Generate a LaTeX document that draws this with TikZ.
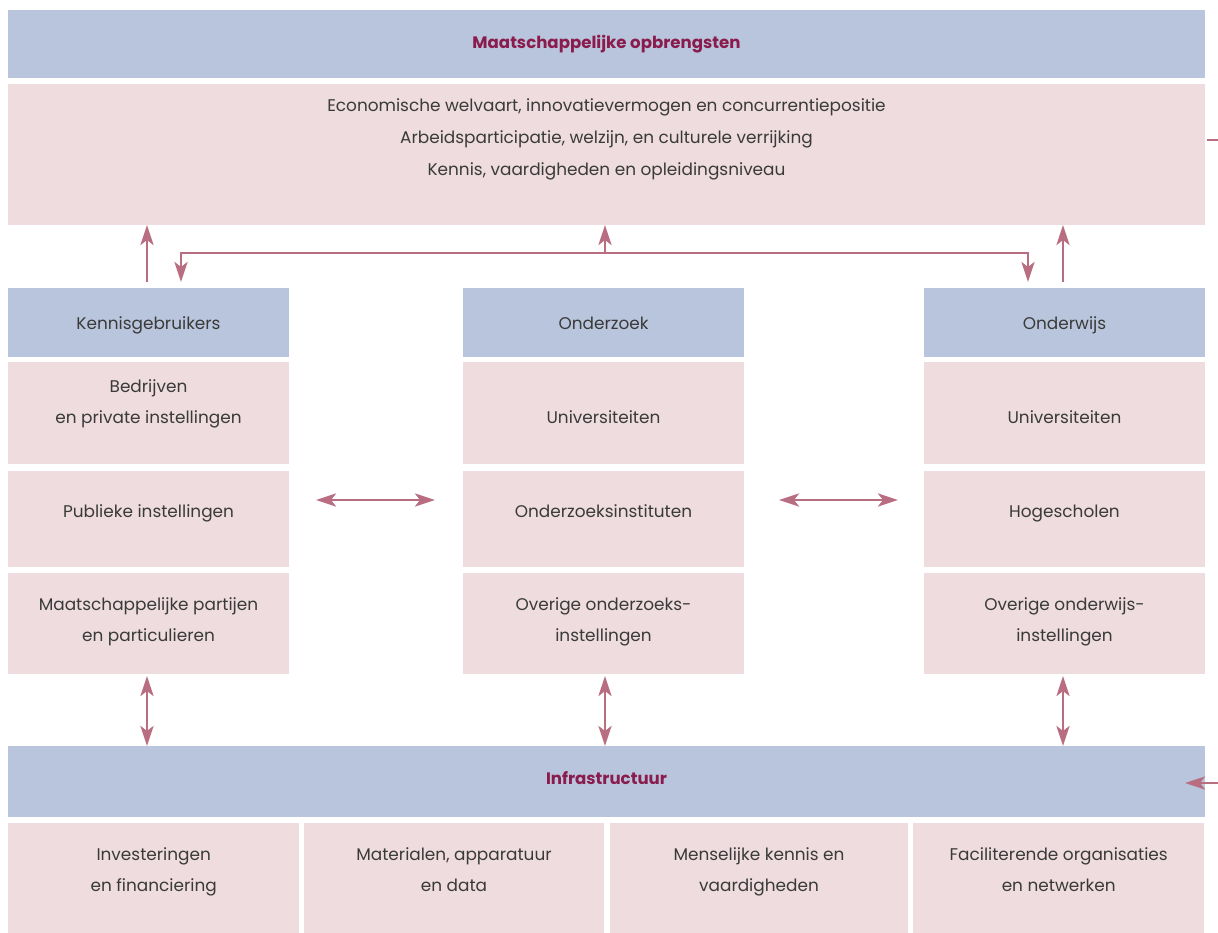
\documentclass[tikz,border=0pt]{standalone}
\usepackage{fontspec}
\setmainfont{Poppins}
\usetikzlibrary{arrows.meta,calc}
\definecolor{hdr}{HTML}{B9C5DC}
\definecolor{cell}{HTML}{EEDCDE}
\definecolor{linkc}{HTML}{B86E80}
\definecolor{ttl}{HTML}{8A1B4D}
\definecolor{ink}{HTML}{3A3A3A}
\begin{document}
\begin{tikzpicture}[x=1pt,y=-1pt,
  box/.style={anchor=north west, inner sep=0pt, outer sep=0pt, minimum width=#1},
  hdrbox/.style={box=#1, fill=hdr},
  cellbox/.style={box=#1, fill=cell},
  txt/.style={text=ink, font=\fontsize{16.9}{31}\selectfont, align=center, inner sep=0pt,
    execute at begin node=\strut, execute at end node=\strut},
  ttltxt/.style={text=ttl, font=\fontsize{16.6}{20}\selectfont\bfseries, inner sep=0pt},
  conn/.style={draw=linkc, line width=2.8pt},
  tip/.style={-{Stealth[length=20pt,width=13pt,inset=5pt]}},
  tips/.style={{Stealth[length=20pt,width=13pt,inset=5pt]}-{Stealth[length=20pt,width=13pt,inset=5pt]}}
]
\useasboundingbox (0,0) rectangle (1218,932);

% --- societal outcomes ---
\node[hdrbox=1196.5pt, minimum height=68pt] (outh) at (8,10) {};
\node[ttltxt] (outt) at (606.5,44) {Maatschappelijke opbrengsten};
\node[cellbox=1196.5pt, minimum height=141pt] (out) at (8,84) {};
\node[txt, font=\fontsize{16.9}{32}\selectfont] (outx) at (606.5,141.5) {Economische welvaart, innovatievermogen en concurrentiepositie\\
  Arbeidsparticipatie, welzijn, en culturele verrijking\\
  Kennis, vaardigheden en opleidingsniveau};

% --- three columns ---
% knowledge users
\node[hdrbox=281pt, minimum height=69pt] (kh) at (8,288) {};
\node[txt] (kht) at (148.5,323.5) {Kennisgebruikers};
\node[cellbox=281pt, minimum height=102pt] (k1) at (8,362.3) {};
\node[txt] (k1t) at (148.5,406) {Bedrijven\\en private instellingen};
\node[cellbox=281pt, minimum height=96pt] (k2) at (8,470.7) {};
\node[txt] (k2t) at (148.5,511) {Publieke instellingen};
\node[cellbox=281pt, minimum height=101pt] (k3) at (8,572.7) {};
\node[txt] (k3t) at (148.5,624) {Maatschappelijke partijen\\en particulieren};

% research
\node[hdrbox=281pt, minimum height=69pt] (rh) at (463,288) {};
\node[txt] (rht) at (603.5,323.5) {Onderzoek};
\node[cellbox=281pt, minimum height=102pt] (r1) at (463,362.3) {};
\node[txt] (r1t) at (603.5,417) {Universiteiten};
\node[cellbox=281pt, minimum height=96pt] (r2) at (463,470.7) {};
\node[txt] (r2t) at (603.5,511) {Onderzoeksinstituten};
\node[cellbox=281pt, minimum height=101pt] (r3) at (463,572.7) {};
\node[txt] (r3t) at (603.5,624) {Overige onderzoeks-\\instellingen};

% education
\node[hdrbox=281pt, minimum height=69pt] (eh) at (924,288) {};
\node[txt] (eht) at (1064.5,323.5) {Onderwijs};
\node[cellbox=281pt, minimum height=102pt] (e1) at (924,362.3) {};
\node[txt] (e1t) at (1064.5,417) {Universiteiten};
\node[cellbox=281pt, minimum height=96pt] (e2) at (924,470.7) {};
\node[txt] (e2t) at (1064.5,511) {Hogescholen};
\node[cellbox=281pt, minimum height=101pt] (e3) at (924,572.7) {};
\node[txt] (e3t) at (1064.5,624) {Overige onderwijs-\\instellingen};

% --- infrastructure ---
\node[hdrbox=1196.5pt, minimum height=71pt] (inf) at (8,746) {};
\node[ttltxt] (inft) at (606.5,778) {Infrastructuur};
\node[cellbox=291.3pt, minimum height=110pt] (b1) at (8,822.7) {};
\node[txt] (b1t) at (153.7,874.5) {Investeringen\\en financiering};
\node[cellbox=299.7pt, minimum height=110pt] (b2) at (304.3,822.7) {};
\node[txt] (b2t) at (454,874.5) {Materialen, apparatuur\\en data};
\node[cellbox=298pt, minimum height=110pt] (b3) at (610,822.7) {};
\node[txt] (b3t) at (759,874.5) {Menselijke kennis en\\vaardigheden};
\node[cellbox=290.7pt, minimum height=110pt] (b4) at (913.3,822.7) {};
\node[txt] (b4t) at (1058.7,874.5) {Faciliterende organisaties\\en netwerken};

% --- connectors to the outcomes ---
\coordinate (ku) at (147,282);
\coordinate (eu) at (1063,282);
\coordinate (kd) at (181,282);
\coordinate (ed) at (1028,282);
\coordinate (bus) at (605,253);
\draw[conn,tip] (ku) -- (ku |- out.south);
\draw[conn,tip] (eu) -- (eu |- out.south);
\draw[conn,tip] (bus) -- (bus |- out.south);
\draw[conn,tip] (bus) -| (kd);
\draw[conn,tip] (bus) -| (ed);

% --- links between the columns ---
\coordinate (h1a) at (316,500);
\coordinate (h1b) at (435,500);
\coordinate (h2a) at (779,500);
\coordinate (h2b) at (898,500);
\draw[conn,tips] (h1a) -- (h1b);
\draw[conn,tips] (h2a) -- (h2b);

% --- links to the infrastructure ---
\draw[conn,tips] (147,676) coordinate (kv) -- (kv |- inf.north);
\draw[conn,tips] (605,676) coordinate (rv) -- (rv |- inf.north);
\draw[conn,tips] (1063,676) coordinate (ev) -- (ev |- inf.north);

% --- feedback loop leaving on the right ---
\coordinate (fbo) at (1207,140);
\coordinate (fbe) at (1218,140);
\draw[conn] (fbo) -- (fbe);
\coordinate (fbi) at (1218,783);
\coordinate (fbt) at (1185,783);
\draw[conn,tip] (fbi) -- (fbt);
\end{tikzpicture}
\end{document}
